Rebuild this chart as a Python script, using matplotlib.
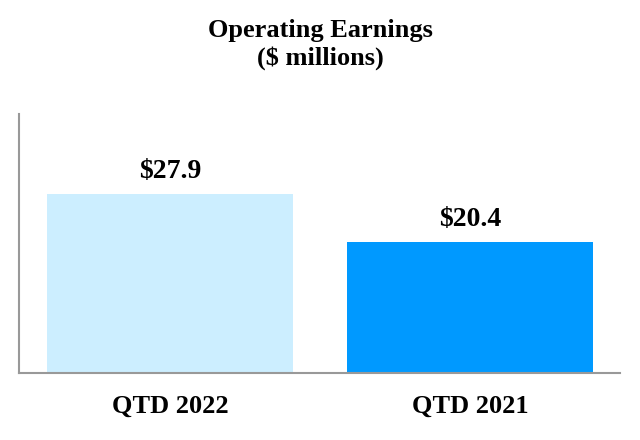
import matplotlib
matplotlib.use("Agg")
import matplotlib.pyplot as plt

categories = ["QTD 2022", "QTD 2021"]
values = [27.9, 20.4]
value_labels = ["$27.9", "$20.4"]
colors = ["#CCEEFF", "#0099FF"]

plt.rcParams['font.family'] = ['Liberation Serif', 'DejaVu Serif']

fig = plt.figure(figsize=(6.4, 4.4), dpi=100)
ax = fig.add_axes([19/640, 67/440, 601/640, 259/440])
x = list(range(len(categories)))
bars = ax.bar(x, values, width=0.82, color=colors)
for xi, v, lab in zip(x, values, value_labels):
    ax.annotate(lab, (xi, v), xytext=(0, 11.5), textcoords="offset points",
                ha="center", va="baseline", fontsize=20, fontweight="bold")
ax.set_xlim(-0.503, 1.5)
ax.set_ylim(0, 40.37)
ax.set_xticks(x)
ax.set_xticklabels(categories, fontsize=19, fontweight="bold")
ax.tick_params(axis="x", length=0, pad=15.5)
ax.set_yticks([])
for s in ["top", "right"]:
    ax.spines[s].set_visible(False)
for s in ["left", "bottom"]:
    ax.spines[s].set_color("#999999")
    ax.spines[s].set_linewidth(1.5)
fig.text(0.5, 1 - 37/440, "Operating Earnings", ha="center", va="baseline",
         fontsize=19, fontweight="bold")
fig.text(0.5, 1 - 65/440, "($ millions)", ha="center", va="baseline",
         fontsize=19, fontweight="bold")
fig.savefig("out.png", dpi=100)
